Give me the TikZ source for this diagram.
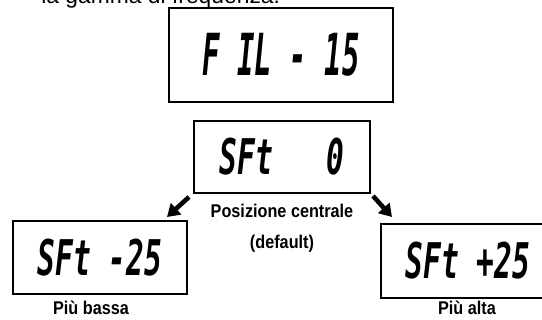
\documentclass[tikz,border=0pt]{standalone}
\usepackage{fontspec}
\setmainfont{Liberation Sans}
\newfontfamily\lcdfont[FakeStretch=0.6]{DejaVu Sans Mono}
\newfontfamily\lcdbigfont[FakeStretch=0.5]{DejaVu Sans Mono}
\newfontfamily\capfont[FakeStretch=0.88]{Liberation Sans}
\usetikzlibrary{arrows.meta}
\tikzset{
  display/.style={draw, line width=0.8pt, inner sep=0pt,
    font=\lcdfont\bfseries\itshape\fontsize{28}{28}\selectfont},
  caption/.style={inner sep=0pt, align=center,
    font=\capfont\bfseries\fontsize{10.5}{17.6}\selectfont},
  shiftarrow/.style={-{Triangle[length=7pt,width=8.5pt]}, line width=2.6pt}
}
\begin{document}
\begin{tikzpicture}[x=0.02cm,y=-0.02cm]
  \useasboundingbox (0,0) rectangle (542,320);
  % testo sopra, tagliato dal bordo
  \node[anchor=base west, inner sep=0pt, font=\fontsize{13}{15}\selectfont] (intro) at (41,4) {la gamma di frequenza.};
  % display
  \node[display, minimum width=4.48cm, minimum height=1.88cm,
    font=\lcdbigfont\bfseries\itshape\fontsize{33}{33}\selectfont] (fil) at (281,55) {F IL - 15};
  \node[display, minimum width=3.52cm, minimum height=1.44cm] (sft0) at (282,157) {SFt\ \ \ 0};
  \node[display, minimum width=3.48cm, minimum height=1.46cm] (sftlo) at (100,257.5) {SFt -25};
  \node[display, minimum width=3.48cm, minimum height=1.48cm] (sfthi) at (468,261) {SFt +25};
  % didascalie
  \node[caption, anchor=north] (centro) at (282,204) {Posizione centrale\\(default)};
  \node[caption, anchor=base] (basso) at (91,315) {Più bassa};
  \node[caption, anchor=base] (alto) at (467,315) {Più alta};
  % frecce
  \coordinate (lo0) at (189,197);
  \coordinate (lo1) at (167,217);
  \coordinate (hi0) at (373,196);
  \coordinate (hi1) at (392,217);
  \draw[shiftarrow] (lo0) -- (lo1);
  \draw[shiftarrow] (hi0) -- (hi1);
\end{tikzpicture}
\end{document}
